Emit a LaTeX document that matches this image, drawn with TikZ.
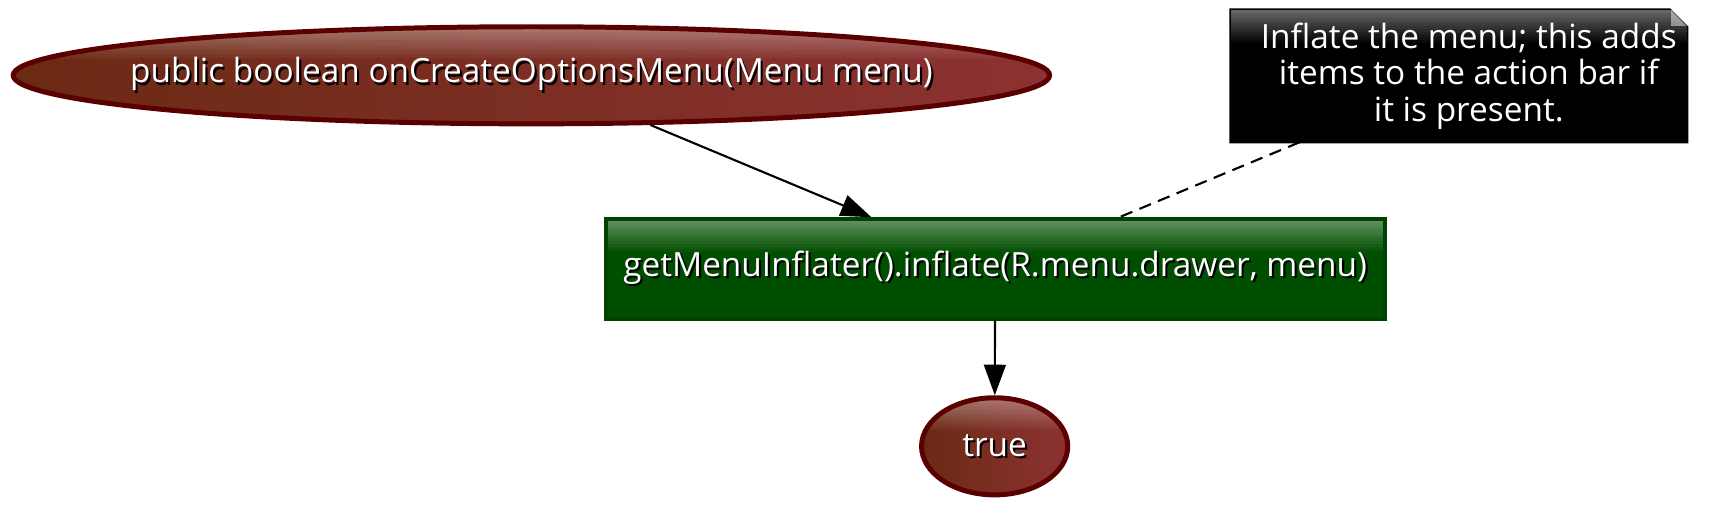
\documentclass[tikz,border=0pt]{standalone}
\usepackage{fontspec}
\setmainfont{Open Sans}
\usetikzlibrary{arrows.meta,shapes.geometric,backgrounds}
\definecolor{brownL}{RGB}{107,42,20}
\definecolor{brownR}{RGB}{140,50,50}
\definecolor{brownB}{RGB}{90,0,0}
\definecolor{greenF}{RGB}{0,78,0}
\definecolor{greenB}{RGB}{0,66,0}
\newcommand\shtext[1]{\makebox[0pt]{\makebox[0pt][l]{\raisebox{-1.1pt}{\hspace{1.1pt}\color{black}#1}}#1}}
\tikzset{
  gloss/.style={path picture={
    \foreach \i [evaluate=\i as \op using #1*(1-\i/12)] in {0,...,11}
      \fill[white,opacity=\op]([yshift=-\i*0.05cm]path picture bounding box.north west)
        rectangle ([yshift=-\i*0.05cm-0.05cm]path picture bounding box.north east);}},
  fnode/.style={ellipse,draw=brownB,line width=2.6pt,left color=brownL,right color=brownR,
    text=white,inner sep=0pt,minimum height=1.78cm,gloss=0.35},
  stmt/.style={rectangle,draw=greenB,line width=2.2pt,fill=greenF,text=white,inner sep=0pt,gloss=0.38},
  memo/.style={rectangle,text=white,inner sep=0pt,align=center,gloss=0.4},
  flow/.style={-{Triangle[length=0.56cm,width=0.4cm]},line width=1.1pt},
  link/.style={dash pattern=on 6.5pt off 4pt,line width=1.1pt}
}
\begin{document}
\begin{tikzpicture}[x=0.02cm,y=-0.02cm,every node/.style={font=\fontsize{17.4}{19}\selectfont}]
\useasboundingbox (0,0) rectangle (1568,478);
\node[fnode,minimum width=19cm](entry)at(487,69){\shtext{public boolean onCreateOptionsMenu(Menu menu)}};
\node[stmt,minimum width=14.28cm,minimum height=1.82cm](inflate)at(912,246.5){\shtext{getMenuInflater().inflate(R.menu.drawer, menu)}};
\node[fnode,minimum width=2.68cm](ret)at(911.5,409){\shtext{true}};
\node[memo,minimum width=8.36cm,minimum height=2.42cm](hint)at(1337,69.5){\hspace*{0.36cm}Inflate the menu; this adds\\
  \hspace*{0.36cm}items to the action bar if\\\hspace*{0.36cm}it is present.};
% note shape behind the text
\begin{scope}[on background layer]
\fill[draw=black,line width=1.1pt](hint.south west)--(hint.north west)--([xshift=-0.32cm]hint.north east)
  --([yshift=-0.32cm]hint.north east)--(hint.south east)--cycle;
\draw[fill=black!55,line width=1.1pt]([xshift=-0.32cm]hint.north east)--([xshift=-0.32cm,yshift=-0.32cm]hint.north east)
  --([yshift=-0.32cm]hint.north east);
\end{scope}
\draw[flow](entry)--(inflate);
\draw[flow](inflate)--(ret);
\draw[link](hint)--(inflate);
\end{tikzpicture}
\end{document}
